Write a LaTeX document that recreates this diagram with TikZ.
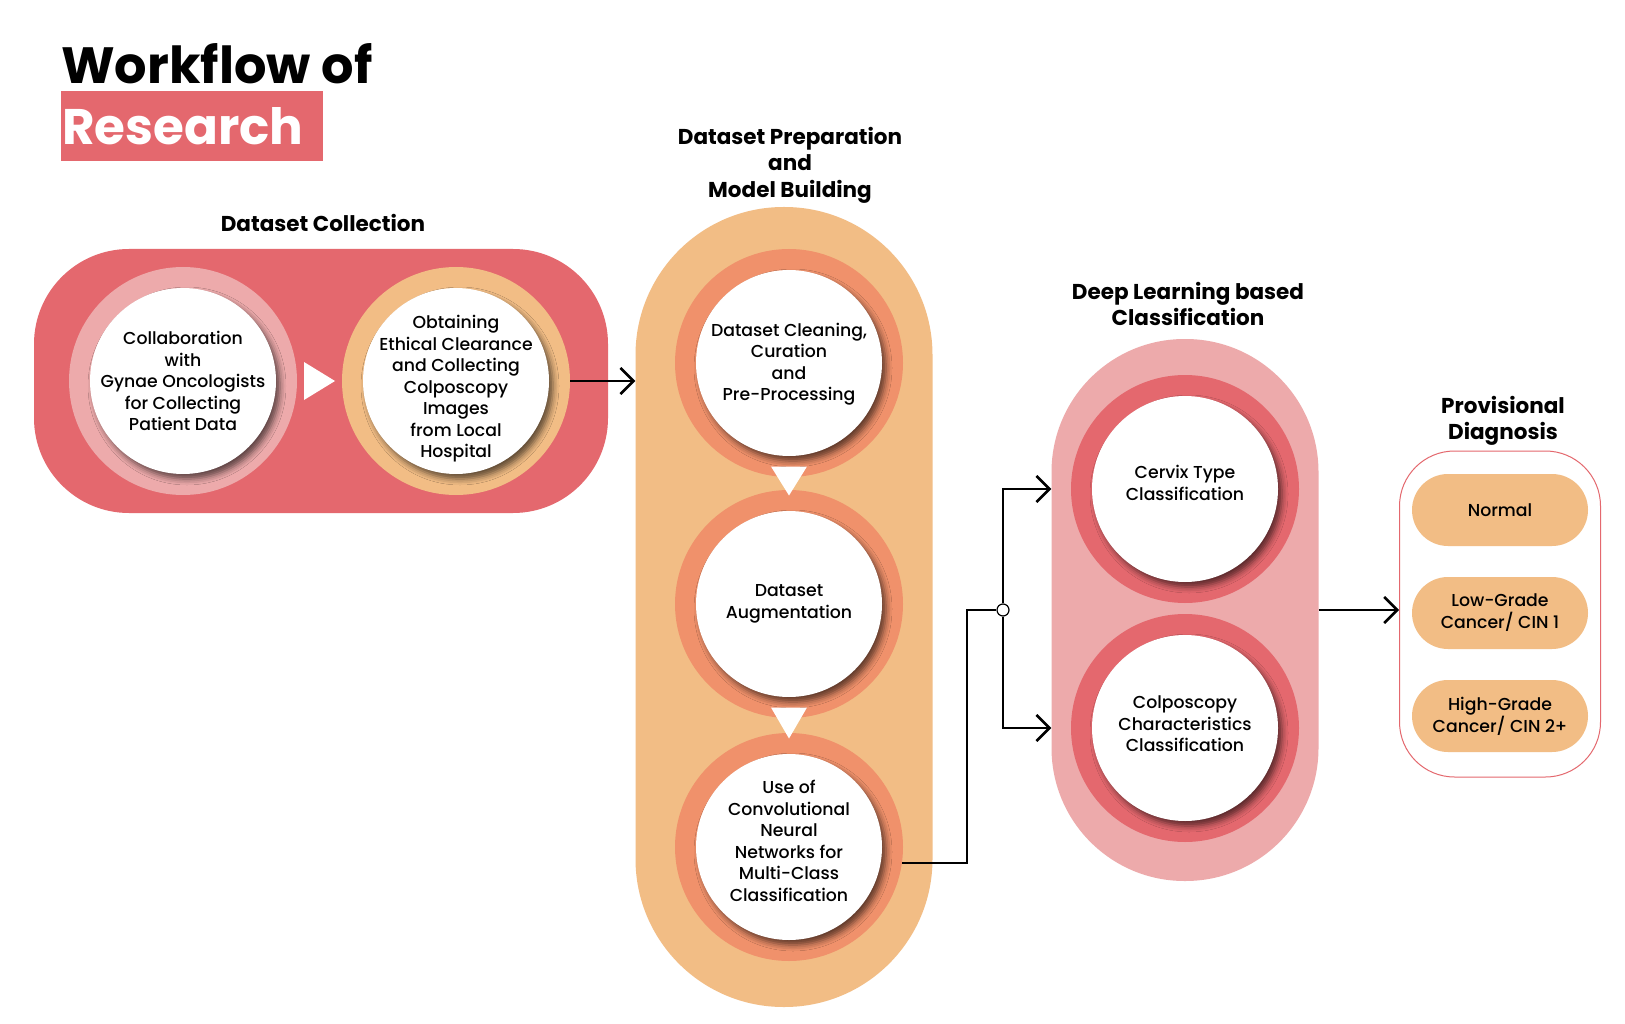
\documentclass[tikz,border=0pt]{standalone}
\usepackage{fontspec}
\setmainfont{Poppins}
\newfontfamily\bodyfont{Poppins Medium}
\usepackage{xcolor}
\usepackage{tikz}
\usetikzlibrary{positioning, arrows.meta, shapes.geometric, shadows.blur, calc}

\definecolor{wfred}{HTML}{E4686E}
\definecolor{wfpink}{HTML}{EDAAAB}
\definecolor{wforange}{HTML}{F2BD85}
\definecolor{wfsalmon}{HTML}{F0916B}

\begin{document}
\begin{tikzpicture}[
 x=1pt, y=-1pt,
 stage/.style={circle, minimum size=228pt, inner sep=0pt},
 core/.style={circle, fill=white, minimum size=186pt, inner sep=0pt,
   blur shadow={shadow xshift=4pt, shadow yshift=-5pt, shadow blur radius=6pt, shadow opacity=60}},
 caption/.style={align=center, inner sep=0pt, font=\bodyfont\fontsize{17.3}{21.5}\selectfont},
 group/.style={rectangle, inner sep=0pt},
 heading/.style={align=center, font=\fontsize{21.5}{26.5}\selectfont\bfseries},
 grade/.style={rectangle, rounded corners=36pt, fill=wforange, minimum width=176pt,
   minimum height=72pt, align=center, font=\bodyfont\fontsize{17.3}{22}\selectfont},
 link/.style={-{Straight Barb[length=13pt, width=26pt]}, line width=2.6pt},
 wire/.style={line width=2.6pt}
]
\useasboundingbox (0,0) rectangle (1625,1024);
\fill[white] (0,0) rectangle (1625,1024);

% title
\node[anchor=base west, inner sep=0pt, font=\fontsize{51}{51}\selectfont\bfseries] (title) at (61,84) {Workflow of};
\node[group, fill=wfred, anchor=north west, minimum width=262pt, minimum height=70pt] (banner) at (61,91) {};
\node[anchor=base west, inner sep=0pt, text=white, font=\fontsize{50}{50}\selectfont\bfseries] (research) at (62,145) {Research};

% dataset collection
\node[group, fill=wfred, minimum width=574pt, minimum height=264pt, rounded corners=95pt] (collect) at (321,381) {};
\node[heading] (collecthead) at (323,223) {Dataset Collection};
\node[stage, fill=wfpink] (ring1) at (183,381) {};
\node[core] (disk1) at (ring1) {};
\node[caption] (step1) at (ring1) {Collaboration\\with\\Gynae Oncologists\\for Collecting\\Patient Data};
\node[stage, fill=wforange] (ring2) at (456,381) {};
\node[core] (disk2) at (ring2) {};
\node[caption] (step2) at ($(ring2)+(0,8)$) {Obtaining\\Ethical Clearance\\and Collecting\\Colposcopy\\Images\\from Local\\Hospital};
\fill[white] ($(ring1.east)!0.5!(ring2.west)$) ++(-15.5,-19) -- ++(31,19) -- ++(-31,19) -- cycle;

% dataset preparation
\node[group, fill=wforange, minimum width=297pt, minimum height=800pt, rounded corners=148pt] (prep) at (784,607) {};
\node[heading] (prephead) at (790,165) {Dataset Preparation\\and\\Model Building};
\node[stage, fill=wfsalmon] (ring3) at (789,363) {};
\node[core] (disk3) at (ring3) {};
\node[caption] (step3) at ($(ring3)+(0,1)$) {Dataset Cleaning,\\Curation\\and\\Pre-Processing};
\node[stage, fill=wfsalmon] (ring4) at (789,604) {};
\node[core] (disk4) at (ring4) {};
\node[caption] (step4) at (ring4) {Dataset\\Augmentation};
\node[stage, fill=wfsalmon] (ring5) at (789,847) {};
\node[core] (disk5) at (ring5) {};
\node[caption] (step5) at ($(ring5)+(0,-6)$) {Use of\\Convolutional\\Neural\\Networks for\\Multi-Class\\Classification};
\fill[white] ($(ring3.south)!0.5!(ring4.north)$) ++(-18,-17) -- ++(36,0) -- ++(-18,29) -- cycle;
\fill[white] ($(ring4.south)!0.5!(ring5.north)$) ++(-18,-18) -- ++(36,0) -- ++(-18,31) -- cycle;

% deep learning classification
\node[group, fill=wfpink, minimum width=267pt, minimum height=542pt, rounded corners=133pt] (deep) at (1185,610) {};
\node[heading] (deephead) at (1188,304) {Deep Learning based\\Classification};
\node[stage, fill=wfred] (ring6) at (1185,489) {};
\node[core] (disk6) at (ring6) {};
\node[caption] (step6) at ($(ring6)+(0,-6)$) {Cervix Type\\Classification};
\node[stage, fill=wfred] (ring7) at (1185,728) {};
\node[core] (disk7) at (ring7) {};
\node[caption] (step7) at ($(ring7)+(0,-4)$) {Colposcopy\\Characteristics\\Classification};

% provisional diagnosis
\node[group, draw=wfred, line width=1pt, fill=white, minimum width=201pt, minimum height=326pt, rounded corners=55pt] (diag) at (1500,614) {};
\node[heading] (diaghead) at (1503,421) {Provisional\\Diagnosis};
\node[grade] (normal) at (1500,510) {Normal};
\node[grade] (low) at (1500,613) {Low-Grade\\Cancer/ CIN 1};
\node[grade] (high) at (1500,716) {High-Grade\\Cancer/ CIN 2+};

% connectors
\node[circle, draw, fill=white, line width=1.2pt, minimum size=12pt, inner sep=0pt] (junc) at (1003,610) {};
\draw[link] (ring2.east) -- (prep.west |- ring2.east);
\draw[wire] (ring5.-8.6) -- ++(65,0) |- (junc.west);
\draw[link] (junc.north) |- (deep.west |- ring6);
\draw[link] (junc.south) |- (deep.west |- ring7);
\draw[link] (deep.east |- junc) -- (diag.west |- junc);
\end{tikzpicture}
\end{document}
